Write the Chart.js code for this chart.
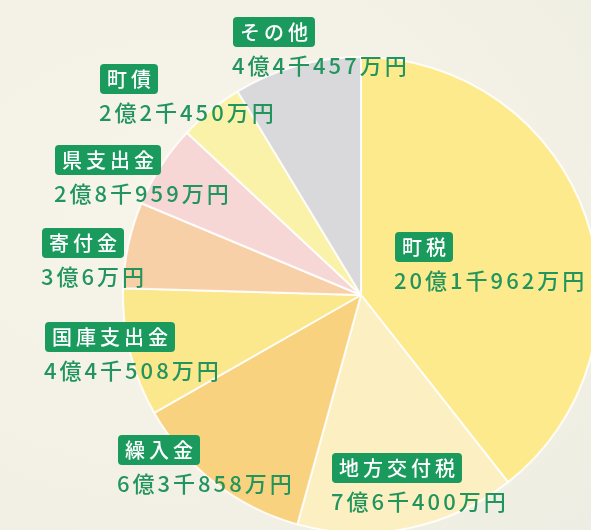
<!DOCTYPE html>
<html>
<head>
<meta charset="utf-8">
<script src="https://cdn.jsdelivr.net/npm/chart.js@4"></script>
<style>
  html, body { margin: 0; padding: 0; }
  body {
    width: 591px; height: 530px; overflow: hidden;
    background: radial-gradient(ellipse at 30% 40%, #f7f5ea 0%, #f3f1e5 60%, #eeede3 100%);
  }
  #wrap { position: relative; width: 620px; height: 560px; }
</style>
</head>
<body>
<div id="wrap"><canvas id="pieChart" width="620" height="560"></canvas></div>
<script>
// 歳入の内訳（万円）
const categories = ['町税', '地方交付税', '繰入金', '国庫支出金', '寄付金', '県支出金', '町債', 'その他'];
const amounts = [201962, 76400, 63858, 44508, 30006, 28959, 22450, 44457];
const amountLabels = ['20億1千962万円', '7億6千400万円', '6億3千858万円', '4億4千508万円',
                      '3億6万円', '2億8千959万円', '2億2千450万円', '4億4千457万円'];
const sliceColors = ['#fdea8c', '#fcefc2', '#f9d27f', '#fbe78c', '#f8d0a8', '#f6d7d6', '#faf2a8', '#d9d8da'];

// label box top-left positions (px)
const labelPos = [
    [395, 232], [332, 453], [118, 435], [45, 322],
    [42, 228], [55, 145], [100, 64], [233, 17]
];

const labelPlugin = {
    id: 'boxLabels',
    afterDraw(chart) {
        const ctx = chart.ctx;
        ctx.save();
        ctx.textBaseline = 'middle';
        categories.forEach((name, i) => {
            const [x, y] = labelPos[i];
            ctx.font = "500 20px 'Noto Sans CJK JP'";
            ctx.letterSpacing = '4px';
            const w = ctx.measureText(name).width + 10;
            ctx.fillStyle = '#1a9a5c';
            ctx.beginPath();
            ctx.roundRect(x, y, w, 30, 4);
            ctx.fill();
            ctx.fillStyle = '#ffffff';
            ctx.fillText(name, x + 7, y + 15);

            ctx.font = "500 22px 'Noto Sans CJK JP'";
            ctx.letterSpacing = '3px';
            ctx.fillStyle = '#22955e';
            ctx.fillText(amountLabels[i], x - 1, y + 49);
        });
        ctx.restore();
    }
};

new Chart(document.getElementById('pieChart'), {
    type: 'pie',
    data: {
        labels: categories,
        datasets: [{
            data: amounts,
            backgroundColor: sliceColors,
            borderColor: 'rgba(255,255,255,0.85)',
            borderWidth: 2
        }]
    },
    options: {
        responsive: false,
        animation: false,
        layout: { padding: { left: 122, right: 20, top: 56, bottom: 26 } },
        plugins: {
            legend: { display: false },
            tooltip: { enabled: false }
        }
    },
    plugins: [labelPlugin]
});
</script>
</body>
</html>
